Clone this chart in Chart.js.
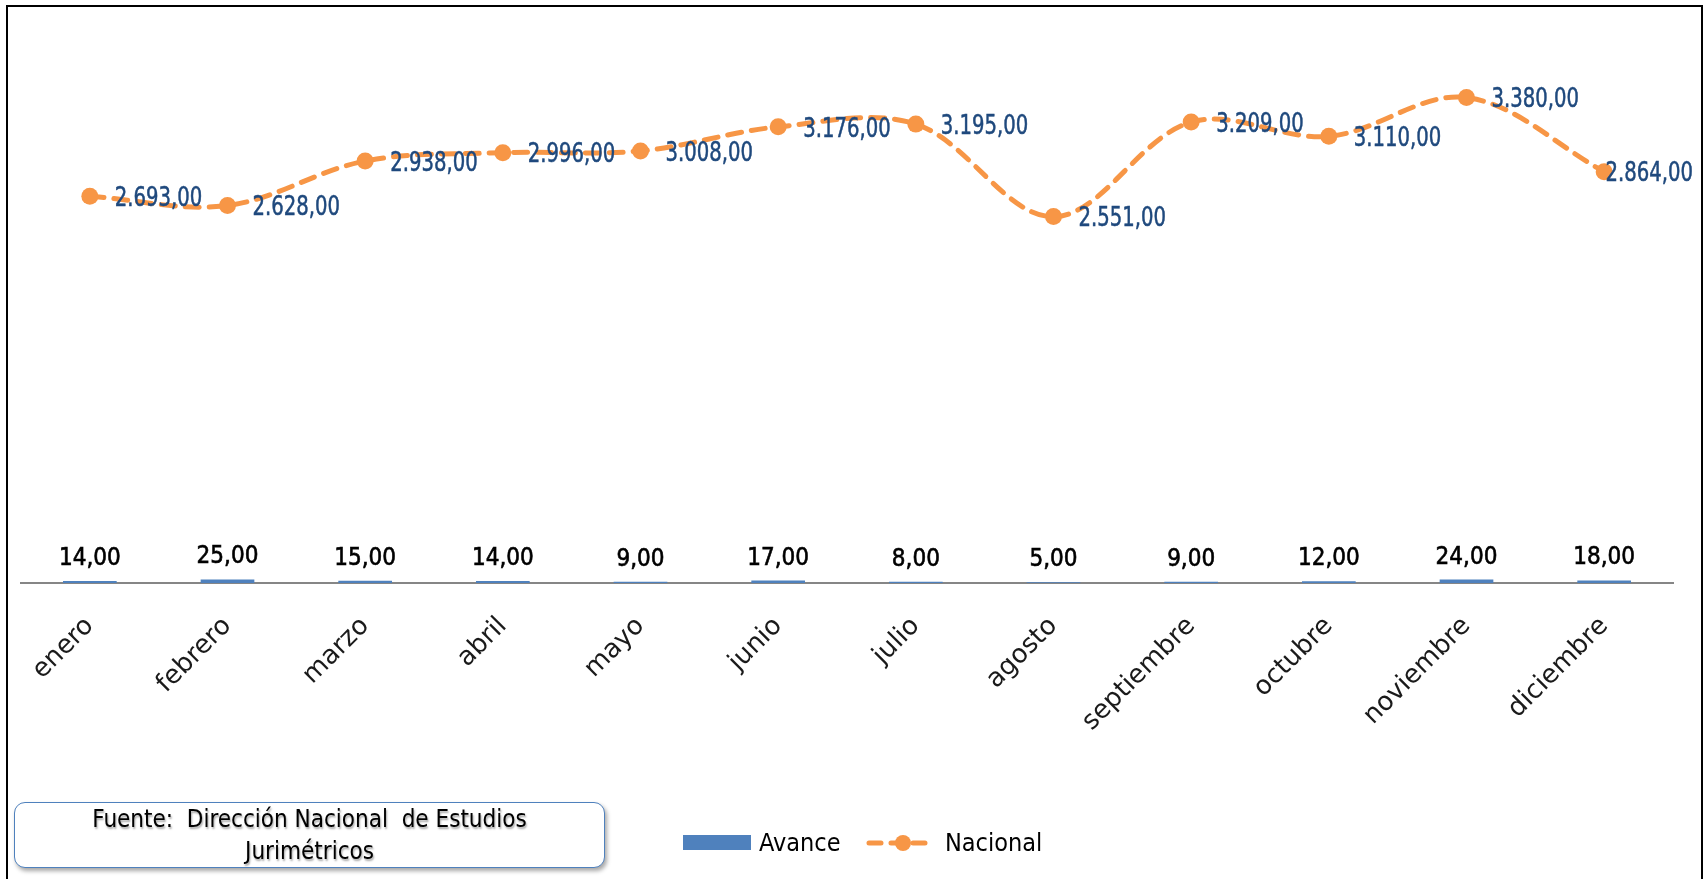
<!DOCTYPE html>
<html>
<head>
<meta charset="utf-8">
<script src="https://cdn.jsdelivr.net/npm/chart.js@4.4.1/dist/chart.umd.min.js"></script>
<style>
html,body{margin:0;padding:0;background:#fff;width:1708px;height:879px;overflow:hidden;}
#wrap{position:relative;width:1708px;height:879px;}
#c{position:absolute;left:0;top:0;}
#frame{position:absolute;left:6px;top:5px;width:1697px;height:900px;border:2px solid #000;box-sizing:border-box;pointer-events:none;}
#fuente{position:absolute;left:14px;top:802px;width:591px;height:66px;box-sizing:border-box;border:1.5px solid #4F81BD;border-radius:11px;box-shadow:2px 3px 4px rgba(0,0,0,0.35);background:#fff;font-family:"DejaVu Sans Condensed","Liberation Sans",sans-serif;font-size:24px;color:#000;text-align:center;line-height:32px;padding:0;text-shadow:1px 2px 2px rgba(0,0,0,0.35);white-space:pre;}
.lg{position:absolute;font-family:"DejaVu Sans Condensed","Liberation Sans",sans-serif;font-size:25px;color:#000;line-height:30px;top:828px;}
#avBox{position:absolute;left:683px;top:835px;width:68px;height:15px;background:#4F81BD;}
#naSvg{position:absolute;left:866px;top:833px;}
</style>
</head>
<body>
<div id="wrap">
  <canvas id="c" width="1708" height="879"></canvas>
  <div id="frame"></div>
  <div id="fuente">Fuente:  Dirección Nacional  de Estudios
Jurimétricos</div>
  <div id="avBox"></div>
  <div class="lg" id="avTxt" style="left:759px;">Avance</div>
  <svg id="naSvg" width="64" height="20" viewBox="0 0 64 20">
    <line x1="3" y1="10" x2="61" y2="10" stroke="#F79646" stroke-width="5" stroke-linecap="round" stroke-dasharray="12 10"/>
    <circle cx="37" cy="10" r="8" fill="#F79646"/>
  </svg>
  <div class="lg" id="naTxt" style="left:945px;">Nacional</div>
</div>
<script>
const categorias = ['enero','febrero','marzo','abril','mayo','junio','julio','agosto','septiembre','octubre','noviembre','diciembre'];
const avance = [14, 25, 15, 14, 9, 17, 8, 5, 9, 12, 24, 18];
const nacional = [2693, 2628, 2938, 2996, 3008, 3176, 3195, 2551, 3209, 3110, 3380, 2864];
const yMin = 0;
const yMax = 4000;

function fmt(v){
  const parts = v.toFixed(2).split('.');
  const ent = parts[0].replace(/\B(?=(\d{3})+(?!\d))/g, '.');
  return ent + ',' + parts[1];
}

const valueLabels = {
  id: 'valueLabels',
  afterDatasetsDraw(chart){
    const ctx = chart.ctx;
    ctx.save();
    const mb = chart.getDatasetMeta(0);
    ctx.font = '24px "DejaVu Sans Condensed", "Liberation Sans", sans-serif';
    ctx.fillStyle = '#000';
    ctx.strokeStyle = '#000';
    ctx.lineWidth = 0.6;
    ctx.textAlign = 'center';
    ctx.textBaseline = 'alphabetic';
    mb.data.forEach((el, i) => {
      const t = fmt(avance[i]);
      ctx.fillText(t, el.x, el.y - 16);
      ctx.strokeText(t, el.x, el.y - 16);
    });
    const ml = chart.getDatasetMeta(1);
    ctx.font = '26px "DejaVu Sans Condensed", "Liberation Sans", sans-serif';
    ctx.fillStyle = '#1F497D';
    ctx.strokeStyle = '#1F497D';
    ctx.lineWidth = 0.5;
    ctx.textAlign = 'left';
    ctx.textBaseline = 'middle';
    const sx = 0.84;
    const maxR = chart.width - 15;
    ml.data.forEach((el, i) => {
      const t = fmt(nacional[i]);
      const w = ctx.measureText(t).width * sx;
      let x = el.x + 25;
      if (x + w > maxR) x = maxR - w;
      ctx.save();
      ctx.translate(x, el.y + 3);
      ctx.scale(sx, 1);
      ctx.fillText(t, 0, 0);
      ctx.strokeText(t, 0, 0);
      ctx.restore();
    });
    ctx.restore();
  }
};

new Chart(document.getElementById('c'), {
  data: {
    labels: categorias,
    datasets: [
      {
        type: 'bar',
        label: 'Avance',
        data: avance,
        backgroundColor: '#4F81BD',
        borderWidth: 0,
        categoryPercentage: 1,
        barPercentage: 0.39,
        order: 2
      },
      {
        type: 'line',
        label: 'Nacional',
        data: nacional,
        borderColor: '#F79646',
        backgroundColor: '#F79646',
        borderWidth: 5,
        borderDash: [14, 10],
        borderCapStyle: 'round',
        tension: 0.35,
        pointRadius: 8.5,
        pointBorderWidth: 0,
        pointBackgroundColor: '#F79646',
        fill: false,
        order: 1
      }
    ]
  },
  options: {
    responsive: false,
    animation: false,
    devicePixelRatio: 1,
    layout: { padding: { left: 21, right: 35, top: 7, bottom: 0 } },
    plugins: { legend: { display: false }, tooltip: { enabled: false } },
    scales: {
      x: {
        offset: true,
        grid: { display: false, drawTicks: false },
        border: { display: true, color: '#868686', width: 2 },
        ticks: {
          color: '#1a1a1a',
          font: { family: '"DejaVu Sans", sans-serif', size: 26, weight: 'normal' },
          minRotation: 45,
          maxRotation: 45,
          padding: 28,
          autoSkip: false
        },
        afterFit(scale){ scale.height = 296; }
      },
      y: {
        display: false,
        min: yMin,
        max: yMax
      }
    }
  },
  plugins: [valueLabels]
});
</script>
</body>
</html>
